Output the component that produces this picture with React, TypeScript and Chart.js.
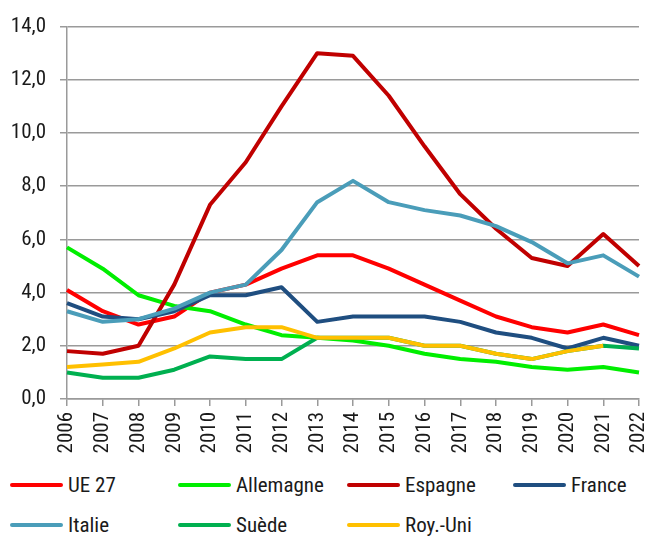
import React, { useEffect, useRef } from "react";
import { Chart, registerables } from "chart.js";

Chart.register(...registerables);

const years = ["2006","2007","2008","2009","2010","2011","2012","2013","2014","2015","2016","2017","2018","2019","2020","2021","2022"];
const yTicks = [0, 2, 4, 6, 8, 10, 12, 14];

const ue27 = [4.1, 3.3, 2.8, 3.1, 4.0, 4.3, 4.9, 5.4, 5.4, 4.9, 4.3, 3.7, 3.1, 2.7, 2.5, 2.8, 2.4];
const allemagne = [5.7, 4.9, 3.9, 3.5, 3.3, 2.8, 2.4, 2.3, 2.2, 2.0, 1.7, 1.5, 1.4, 1.2, 1.1, 1.2, 1.0];
const espagne = [1.8, 1.7, 2.0, 4.3, 7.3, 8.9, 11.0, 13.0, 12.9, 11.4, 9.5, 7.7, 6.4, 5.3, 5.0, 6.2, 5.0];
const france = [3.6, 3.1, 3.0, 3.3, 3.9, 3.9, 4.2, 2.9, 3.1, 3.1, 3.1, 2.9, 2.5, 2.3, 1.9, 2.3, 2.0];
const italie = [3.3, 2.9, 3.0, 3.4, 4.0, 4.3, 5.6, 7.4, 8.2, 7.4, 7.1, 6.9, 6.5, 5.9, 5.1, 5.4, 4.6];
const suede = [1.0, 0.8, 0.8, 1.1, 1.6, 1.5, 1.5, 2.3, 2.3, 2.3, 2.0, 2.0, 1.7, 1.5, 1.8, 2.0, 1.9];
const royUni = [1.2, 1.3, 1.4, 1.9, 2.5, 2.7, 2.7, 2.3, 2.3, 2.3, 2.0, 2.0, 1.7, 1.5, 1.8, 2.0, null];

const series = [
  { label: "UE 27", data: ue27, color: "#FF0000" },
  { label: "Allemagne", data: allemagne, color: "#00EE00" },
  { label: "Espagne", data: espagne, color: "#C00000" },
  { label: "France", data: france, color: "#1F4E80" },
  { label: "Italie", data: italie, color: "#4A9DB9" },
  { label: "Suède", data: suede, color: "#00B050" },
  { label: "Roy.-Uni", data: royUni, color: "#FFC000" },
];

const FONT = "'Roboto Condensed', 'DejaVu Sans Condensed', sans-serif";
const TEXT = "#1a1a1a";
const GRID = "#9a9a9a";
const CANVAS_H = 465;
const legendCols = [10, 178, 347, 513];
const legendRows = [485, 525];

export default function App() {
  const ref = useRef<HTMLCanvasElement>(null);
  useEffect(() => {
    document.body.style.margin = "0";
    const chart = new Chart(ref.current!, {
      type: "line",
      data: {
        labels: years,
        datasets: series.map((s, i) => ({
          label: s.label,
          data: s.data,
          borderColor: s.color,
          backgroundColor: s.color,
          borderWidth: 4,
          borderJoinStyle: "round" as const,
          pointRadius: 0,
          tension: 0,
          fill: false,
          order: series.length - i,
        })),
      },
      options: {
        animation: false,
        responsive: false,
        maintainAspectRatio: false,
        layout: { padding: { top: 19, right: 10, left: 0, bottom: 0 } },
        plugins: { legend: { display: false }, tooltip: { enabled: false } },
        scales: {
          x: {
            offset: false,
            afterFit: (axis: any) => {
              axis.height = CANVAS_H - 399;
              axis.paddingLeft = 0;
              axis.paddingRight = 0;
            },
            grid: { drawOnChartArea: false, drawTicks: true, tickLength: 7, color: GRID, lineWidth: 1.5 },
            border: { color: GRID, width: 1.5 },
            ticks: {
              color: TEXT,
              font: { family: FONT, size: 21 },
              maxRotation: 90,
              minRotation: 90,
              autoSkip: false,
              padding: 6,
            },
          },
          y: {
            min: 0,
            max: 14,
            afterBuildTicks: (axis: any) => {
              axis.ticks = yTicks.map((v) => ({ value: v }));
            },
            afterFit: (axis: any) => {
              axis.width = 67;
            },
            grid: { color: GRID, lineWidth: 1.5, tickLength: 7 },
            border: { color: GRID, width: 1.5 },
            ticks: {
              color: TEXT,
              font: { family: FONT, size: 21 },
              padding: 14,
              callback: (v: any) => Number(v).toFixed(1).replace(".", ","),
            },
          },
        },
      },
    });
    return () => chart.destroy();
  }, []);

  return (
    <div style={{ width: 649, height: 536, fontFamily: FONT, position: "relative" }}>
      <canvas ref={ref} width={649} height={CANVAS_H} style={{ display: "block" }} />
      {series.map((s, i) => {
        const left = legendCols[i % 4];
        const cy = legendRows[Math.floor(i / 4)];
        return (
          <div
            key={s.label}
            style={{ position: "absolute", left, top: cy - 14, height: 28, display: "flex", alignItems: "center", whiteSpace: "nowrap" }}
          >
            <div style={{ width: 53, height: 4, borderRadius: 2, background: s.color, marginRight: 5 }} />
            <span style={{ fontSize: 21, color: TEXT, lineHeight: "28px" }}>{s.label}</span>
          </div>
        );
      })}
    </div>
  );
}
